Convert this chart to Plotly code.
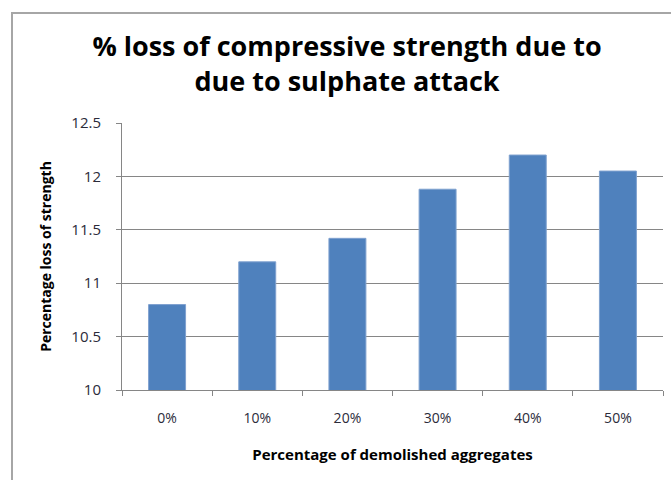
import plotly.graph_objects as go

# Demolished aggregate replacement levels and measured loss of strength
categories = ["0%", "10%", "20%", "30%", "40%", "50%"]
strength_loss = [10.8, 11.2, 11.42, 11.88, 12.2, 12.05]
y_ticks = [10, 10.5, 11, 11.5, 12, 12.5]

W, H = 671, 480
L, R, T, B = 122, 8, 123, 90
plot_w = W - L - R
plot_h = H - T - B

def px_to_paper_x(px):
    return (px - L) / plot_w

def px_to_paper_y(py):
    return (H - B - py) / plot_h

fig = go.Figure(
    go.Bar(
        x=categories,
        y=strength_loss,
        marker=dict(color="#4F81BD", line=dict(color="#7fa1cf", width=1)),
        width=0.41,
    )
)

font_family = "Open Sans, Noto Sans, Liberation Sans, sans-serif"

fig.update_layout(
    width=W,
    height=H,
    margin=dict(l=L, r=R, t=T, b=B),
    paper_bgcolor="white",
    plot_bgcolor="white",
    showlegend=False,
    font=dict(family=font_family, color="#1a1a1a"),
    title=dict(
        text="<b>% loss of compressive strength due to<br>due to sulphate attack</b>",
        x=347 / W,
        xref="container",
        xanchor="center",
        y=(H - 56) / H,
        yref="container",
        yanchor="middle",
        font=dict(family=font_family, size=27, color="black"),
    ),
    xaxis=dict(
        type="category",
        tickson="boundaries",
        ticks="outside",
        ticklen=5,
        tickcolor="#868686",
        showline=True,
        linecolor="#868686",
        linewidth=1,
        showgrid=False,
        ticklabelstandoff=15,
        tickfont=dict(size=14, color="#2b2b3a"),
        title=dict(
            text="<b>Percentage of demolished aggregates</b>",
            font=dict(size=15, color="black"),
            standoff=23,
        ),
    ),
    yaxis=dict(
        range=[10, 12.5],
        tickvals=y_ticks,
        ticktext=[f"{v:g}" for v in y_ticks],
        ticks="outside",
        ticklen=5,
        tickcolor="#868686",
        showline=True,
        linecolor="#868686",
        linewidth=1,
        showgrid=True,
        gridcolor="#868686",
        gridwidth=1,
        zeroline=False,
        ticklabelstandoff=12,
        tickfont=dict(size=15, color="#2b2b3a"),
        title=dict(
            text="<b>Percentage loss of strength</b>",
            font=dict(size=14, color="black"),
            standoff=16,
        ),
    ),
)

# Outer chart-area frame
fig.add_shape(
    type="rect",
    xref="paper",
    yref="paper",
    x0=px_to_paper_x(12),
    x1=px_to_paper_x(700),
    y0=px_to_paper_y(520),
    y1=px_to_paper_y(13),
    line=dict(color="#a6a6a6", width=2),
    fillcolor="rgba(0,0,0,0)",
    layer="below",
)

fig.write_html("out.html")
